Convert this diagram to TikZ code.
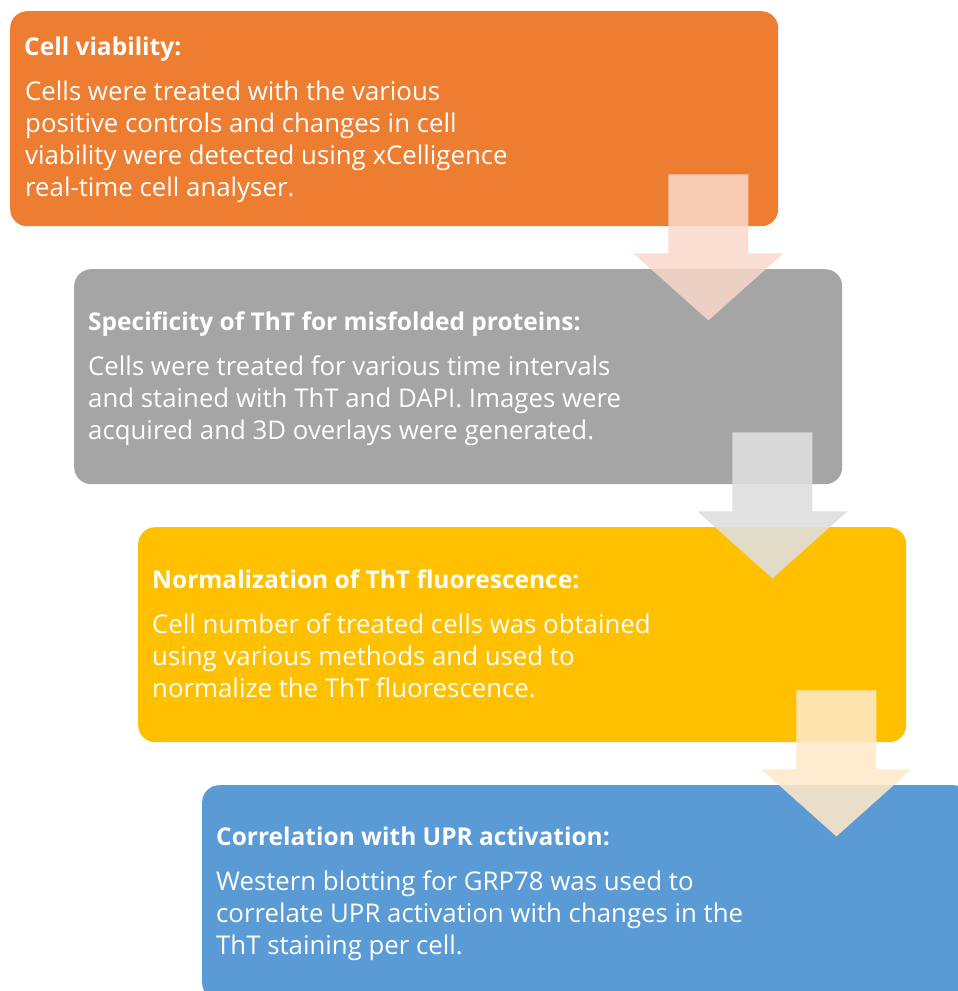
\documentclass[tikz,border=0pt]{standalone}
\usepackage{fontspec}
\setmainfont{Open Sans}
\usetikzlibrary{calc}
\definecolor{stepA}{HTML}{ED7D31}
\definecolor{stepB}{HTML}{A5A5A5}
\definecolor{stepC}{HTML}{FFC000}
\definecolor{stepD}{HTML}{5B9BD5}
\definecolor{flowA}{HTML}{F9D8CA}
\definecolor{flowB}{HTML}{DEDEDE}
\definecolor{flowC}{HTML}{FFE8C8}
\newcommand{\textlines}[1]{\begin{tabular}[t]{@{}l@{}}#1\end{tabular}}
\begin{document}
\begin{tikzpicture}[x=1pt,y=-1pt,
  panel/.style={rounded corners=17pt, draw=none, inner sep=0pt,
    minimum width=768pt, minimum height=215pt, anchor=north west},
  head/.style={anchor=base west, inner sep=0pt, text=white,
    font=\fontsize{24.5}{32}\selectfont\bfseries},
  body/.style={anchor=base west, inner sep=0pt, text=white,
    font=\fontsize{25.8}{32}\selectfont},
  downarrow/.pic={\path[pic actions] (-40,0) -- (40,0) -- (40,79) -- (75,79)
    -- (0,146) -- (-75,79) -- (-40,79) -- cycle;}]
\useasboundingbox (0,0) rectangle (958,991);
\clip (0,0) rectangle (958,991);

% step panels
\node[panel, fill=stepA] (p1) at (10,11) {};
\node[panel, fill=stepB] (p2) at (74,269) {};
\node[panel, fill=stepC] (p3) at (138,527) {};
\node[panel, fill=stepD] (p4) at (202,785) {};

% panel texts
\node[head] (h1) at (24,55) {Cell viability:};
\node[body] (b1) at (25,100) {\textlines{Cells were treated with the various\\
  positive controls and changes in cell\\
  viability were detected using xCelligence\\
  real-time cell analyser.}};

\node[head] (h2) at (88,330) {Specificity of ThT for misfolded proteins:};
\node[body] (b2) at (88,375) {\textlines{Cells were treated for various time intervals\\
  and stained with ThT and DAPI. Images were\\
  acquired and 3D overlays were generated.}};

\node[head] (h3) at (152,588) {Normalization of ThT fluorescence:};
\node[body] (b3) at (152,633) {\textlines{Cell number of treated cells was obtained\\
  using various methods and used to\\
  normalize the ThT fluorescence.}};

\node[head] (h4) at (216,845) {Correlation with UPR activation:};
\node[body] (b4) at (216,890) {\textlines{Western blotting for GRP78 was used to\\
  correlate UPR activation with changes in the\\
  ThT staining per cell.}};

% translucent arrows between steps
\pic[fill=flowA, fill opacity=0.85] at ($(p1.south east)+(-70,-52)$) {downarrow};
\pic[fill=flowB, fill opacity=0.9] at ($(p2.south east)+(-70,-52)$) {downarrow};
\pic[fill=flowC, fill opacity=0.88] at ($(p3.south east)+(-70,-52)$) {downarrow};
\end{tikzpicture}
\end{document}
